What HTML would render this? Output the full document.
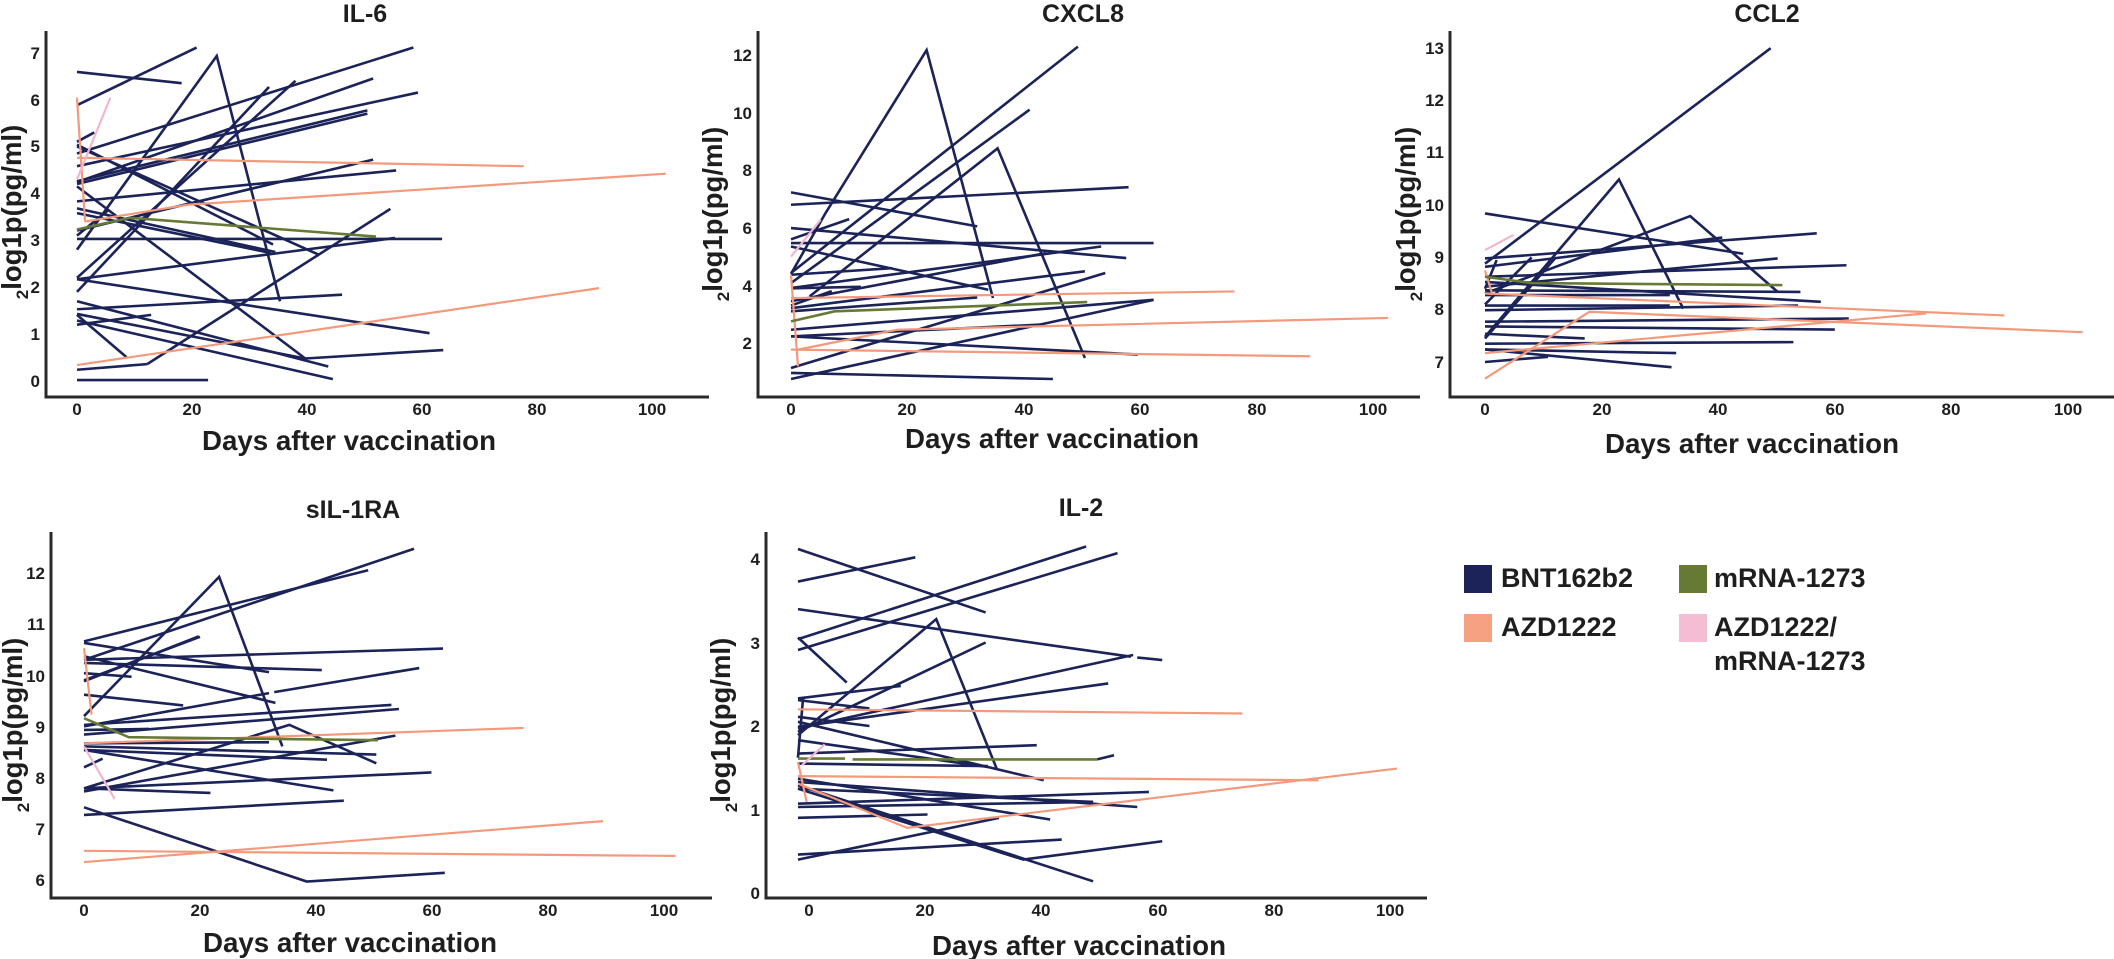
<!DOCTYPE html>
<html><head><meta charset="utf-8"><style>
html,body{margin:0;padding:0;background:#fff}
svg{display:block}
text{font-family:"Liberation Sans",Arial,sans-serif;font-weight:bold;fill:#1e1e1e}
.t{font-size:25px;text-anchor:middle}
.xl{font-size:28px;text-anchor:middle}
.tk{font-size:17px;text-anchor:middle}
.ty{font-size:17px;text-anchor:end}
.yl{font-size:28px;text-anchor:middle}
.ax{stroke:#2a2a2a;stroke-width:3;fill:none}
.n polyline{stroke:#1b2359;stroke-width:2.6;fill:none;vector-effect:non-scaling-stroke}
.o polyline{stroke:#f39a7c;stroke-width:2.2;fill:none;vector-effect:non-scaling-stroke}
.g polyline{stroke:#667a36;stroke-width:2.6;fill:none;vector-effect:non-scaling-stroke}
.p polyline{stroke:#f2b6cf;stroke-width:2.2;fill:none;vector-effect:non-scaling-stroke}
.lg{font-size:27px}
</style></head><body>
<svg width="2114" height="959" viewBox="0 0 2114 959" xmlns="http://www.w3.org/2000/svg">

<!-- ===== IL-6 ===== -->
<text class="t" x="365" y="22">IL-6</text>
<path class="ax" d="M46,31 V397 H709"/>
<g>
<text class="ty" x="40" y="387">0</text><text class="ty" x="40" y="340">1</text><text class="ty" x="40" y="293">2</text><text class="ty" x="40" y="246">3</text><text class="ty" x="40" y="199">4</text><text class="ty" x="40" y="152">5</text><text class="ty" x="40" y="106">6</text><text class="ty" x="40" y="59">7</text>
<text class="tk" x="77" y="415">0</text><text class="tk" x="192" y="415">20</text><text class="tk" x="307" y="415">40</text><text class="tk" x="422" y="415">60</text><text class="tk" x="537" y="415">80</text><text class="tk" x="652" y="415">100</text>
</g>
<text class="yl" transform="translate(21,212) rotate(-90)"><tspan font-size="17" dy="7">2</tspan><tspan dy="-7" textLength="165" lengthAdjust="spacingAndGlyphs">log1p(pg/ml)</tspan></text>
<text class="xl" x="349" y="450" textLength="294" lengthAdjust="spacingAndGlyphs">Days after vaccination</text>
<g transform="translate(77,381) scale(5.75,-46.9)">
<g class="n">
<polyline points="0,6.59 18.2,6.35"/><polyline points="0,5.88 20.8,7.11"/><polyline points="0,0.02 22.8,0.02"/>
<polyline points="0,0.24 12.2,0.36"/><polyline points="0,1.41 8.6,0.51"/><polyline points="0,4.24 51.5,6.45"/>
<polyline points="0,4.58 59.3,6.15"/><polyline points="0,4.26 50.5,5.77"/><polyline points="0,4.2 50.5,5.7"/>
<polyline points="0,4.85 58.5,7.11"/><polyline points="0,3.83 55.5,4.49"/><polyline points="0,3.21 51.5,4.72"/>
<polyline points="0,3.03 63.5,3.03"/><polyline points="0,2.17 55.3,3.05"/><polyline points="0,2.17 61.3,1.02"/>
<polyline points="0,1.9 33.4,6.27"/><polyline points="0,1.53 46.1,1.84"/><polyline points="0,1.7 43.7,0.31"/>
<polyline points="0,1.43 39.7,0.48 63.7,0.66"/><polyline points="0,1.29 44.5,0.04"/><polyline points="0,1.2 12.9,1.41"/>
<polyline points="0,2.8 24.3,6.93 35.3,1.7"/><polyline points="0,5.04 34.1,2.91"/><polyline points="0,5.0 42.1,2.69"/>
<polyline points="0,3.58 33.7,2.73"/><polyline points="0,3.68 34.5,2.75"/><polyline points="0,4.15 39.7,0.48"/>
<polyline points="12.2,0.36 54.5,3.67"/><polyline points="0,5.1 3,5.3"/><polyline points="0,3.1 5.5,3.65"/>
<polyline points="0,2.2 38,6.4"/>
</g>
<g class="o">
<polyline points="0,6.04 1.4,3.4"/><polyline points="0,4.76 77.7,4.58"/>
<polyline points="1.4,3.4 19.4,3.76 102.4,4.42"/><polyline points="0,0.34 90.8,1.98"/>
</g>
<g class="g"><polyline points="0,3.23 9.2,3.48 52,3.08"/></g>
<g class="p"><polyline points="0,4.3 5.8,6.04"/></g>
</g>

<!-- ===== CXCL8 ===== -->
<text class="t" x="1083" y="22">CXCL8</text>
<path class="ax" d="M758,31 V397 H1420"/>
<g>
<text class="ty" x="752" y="349">2</text><text class="ty" x="752" y="292">4</text><text class="ty" x="752" y="234">6</text><text class="ty" x="752" y="176">8</text><text class="ty" x="752" y="119">10</text><text class="ty" x="752" y="61">12</text>
<text class="tk" x="791" y="415">0</text><text class="tk" x="907" y="415">20</text><text class="tk" x="1024" y="415">40</text><text class="tk" x="1140" y="415">60</text><text class="tk" x="1257" y="415">80</text><text class="tk" x="1373" y="415">100</text>
</g>
<text class="yl" transform="translate(722,214) rotate(-90)"><tspan font-size="17" dy="7">2</tspan><tspan dy="-7" textLength="165" lengthAdjust="spacingAndGlyphs">log1p(pg/ml)</tspan></text>
<text class="xl" x="1052" y="448" textLength="294" lengthAdjust="spacingAndGlyphs">Days after vaccination</text>
<g transform="translate(791,400.6) scale(5.82,-28.8)">
<g class="n">
<polyline points="0,4.4 5.9,6.5 23.3,12.17 34.7,3.56"/><polyline points="0,4.43 49.3,12.29"/><polyline points="0,4.08 41,10.1"/>
<polyline points="3.2,3.62 35.5,8.76 50.5,1.48"/><polyline points="0,7.23 32,6.05"/><polyline points="0,6.8 58,7.41"/>
<polyline points="0,5.99 57.6,4.95"/><polyline points="0,5.47 62.3,5.47"/><polyline points="0,4.37 17.4,4.6"/>
<polyline points="0,5.35 33.9,3.85"/><polyline points="0,3.91 53.3,5.35"/><polyline points="0,3.45 43.8,5.12"/>
<polyline points="0,3.21 50.5,4.49"/><polyline points="0,3.1 32,3.58"/><polyline points="0,2.46 62.3,3.5"/>
<polyline points="0,2.23 43,2.64"/><polyline points="0,2.23 59.6,1.6"/><polyline points="0,1.13 54,4.43"/>
<polyline points="0,0.96 45,0.75"/><polyline points="0,0.75 62.3,3.5"/><polyline points="0,3.3 7,3.8"/>
<polyline points="0,5.6 10,6.3"/><polyline points="0,3.9 12,3.95"/>
</g>
<g class="o">
<polyline points="0,4.37 1.2,1.19"/><polyline points="1.2,1.77 18.2,2.46 102.6,2.87"/>
<polyline points="0,1.77 89.2,1.54"/><polyline points="0,3.56 76.2,3.79"/>
</g>
<g class="g"><polyline points="0,2.75 7.5,3.1 50.9,3.42"/></g>
<g class="p"><polyline points="0,5.0 5.1,6.28"/></g>
</g>

<!-- ===== CCL2 ===== -->
<text class="t" x="1767" y="22">CCL2</text>
<path class="ax" d="M1450,31 V397 H2114"/>
<g>
<text class="ty" x="1444" y="368">7</text><text class="ty" x="1444" y="315">8</text><text class="ty" x="1444" y="263">9</text><text class="ty" x="1444" y="211">10</text><text class="ty" x="1444" y="158">11</text><text class="ty" x="1444" y="106">12</text><text class="ty" x="1444" y="54">13</text>
<text class="tk" x="1485" y="415">0</text><text class="tk" x="1602" y="415">20</text><text class="tk" x="1718" y="415">40</text><text class="tk" x="1835" y="415">60</text><text class="tk" x="1951" y="415">80</text><text class="tk" x="2068" y="415">100</text>
</g>
<text class="yl" transform="translate(1415,214) rotate(-90)"><tspan font-size="17" dy="7">2</tspan><tspan dy="-7" textLength="165" lengthAdjust="spacingAndGlyphs">log1p(pg/ml)</tspan></text>
<text class="xl" x="1752" y="453" textLength="294" lengthAdjust="spacingAndGlyphs">Days after vaccination</text>
<g transform="translate(1485,728.1) scale(5.83,-52.3)">
<g class="n">
<polyline points="0,8.88 49,13"/><polyline points="0,7.48 22.98,10.49 34,8.02"/><polyline points="0,9.84 44.3,9.07"/>
<polyline points="0,8.31 35.2,9.79 50.2,8.34"/><polyline points="0,8.82 40.7,9.38"/><polyline points="0,8.98 56.9,9.46"/>
<polyline points="0,8.44 50.2,8.98"/><polyline points="0,8.63 62,8.85"/><polyline points="0,8.53 57.6,8.15"/>
<polyline points="0,8.37 54.1,8.34"/><polyline points="0,8.28 31.7,8.28"/><polyline points="0,8.08 31.7,8.08"/>
<polyline points="0,7.99 53.7,8.08"/><polyline points="0,7.77 62.4,7.83"/><polyline points="0,7.68 60,7.62"/>
<polyline points="0,7.54 17.1,7.45"/><polyline points="0,7.35 52.9,7.38"/><polyline points="0,7.24 32.8,7.17"/>
<polyline points="0,7.0 10.8,7.1"/><polyline points="0,7.24 32,6.9"/><polyline points="0,7.45 12,8.98"/>
<polyline points="0,8.4 2,8.95"/><polyline points="0,8.1 8,9.0"/>
</g>
<g class="o">
<polyline points="0,8.75 1.3,8.28"/><polyline points="0,8.31 89.1,7.89"/>
<polyline points="0,7.17 75.7,7.93"/><polyline points="0,6.68 17.9,7.96 102.5,7.57"/>
</g>
<g class="g"><polyline points="0,8.63 8,8.51 51,8.47"/></g>
<g class="p"><polyline points="0,9.14 4.9,9.43"/></g>
</g>

<!-- ===== sIL-1RA ===== -->
<text class="t" x="353" y="518">sIL-1RA</text>
<path class="ax" d="M51,532 V898 H712"/>
<g>
<text class="ty" x="45" y="886">6</text><text class="ty" x="45" y="835">7</text><text class="ty" x="45" y="784">8</text><text class="ty" x="45" y="733">9</text><text class="ty" x="45" y="682">10</text><text class="ty" x="45" y="630">11</text><text class="ty" x="45" y="579">12</text>
<text class="tk" x="84" y="916">0</text><text class="tk" x="200" y="916">20</text><text class="tk" x="316" y="916">40</text><text class="tk" x="432" y="916">60</text><text class="tk" x="548" y="916">80</text><text class="tk" x="664" y="916">100</text>
</g>
<text class="yl" transform="translate(22,725) rotate(-90)"><tspan font-size="17" dy="7">2</tspan><tspan dy="-7" textLength="165" lengthAdjust="spacingAndGlyphs">log1p(pg/ml)</tspan></text>
<text class="xl" x="350" y="952" textLength="294" lengthAdjust="spacingAndGlyphs">Days after vaccination</text>
<g transform="translate(84,1187.2) scale(5.8,-51.2)">
<g class="n">
<polyline points="0,10.66 49,12.05"/><polyline points="0,10.3 56.9,12.47"/><polyline points="0,9.2 23.3,11.92 34.2,8.61"/>
<polyline points="0,9.88 19.8,10.76"/><polyline points="0,10.3 61.9,10.52"/><polyline points="0,10.24 41,10.1"/>
<polyline points="0,10.63 31.9,10.06"/><polyline points="0,10.37 33,9.46"/><polyline points="0,10.04 8.2,9.97"/>
<polyline points="0,9.62 17.1,9.41"/><polyline points="0,9.0 31.9,9.65"/><polyline points="32.8,9.67 57.8,10.14"/>
<polyline points="0,9.03 53,9.42"/><polyline points="0,8.84 54.3,9.34"/><polyline points="0,8.93 11.2,8.95"/>
<polyline points="0,8.67 31.9,8.69"/><polyline points="0,8.61 50.4,8.45"/><polyline points="0,8.54 41.9,8.35"/>
<polyline points="0,7.79 35.4,9.03 50.4,8.28"/><polyline points="0,7.73 53.7,8.82"/><polyline points="0,8.54 43,7.75"/>
<polyline points="0,7.79 21.8,7.7"/><polyline points="0,7.79 59.9,8.1"/><polyline points="0,7.27 44.8,7.55"/>
<polyline points="0,7.42 38.4,5.97 62.2,6.14"/><polyline points="0,8.2 3.2,8.37"/><polyline points="0,9.9 20,10.75"/>
</g>
<g class="o">
<polyline points="0,10.53 1.3,9.23"/><polyline points="0,8.67 75.8,8.97"/>
<polyline points="0,6.57 102,6.47"/><polyline points="0,6.35 89.5,7.15"/>
</g>
<g class="g"><polyline points="0,9.16 7.7,8.79 50.7,8.73"/></g>
<g class="p"><polyline points="0,8.61 5.3,7.58"/></g>
</g>

<!-- ===== IL-2 ===== -->
<text class="t" x="1081" y="516">IL-2</text>
<path class="ax" d="M766,532 V898 H1427"/>
<g>
<text class="ty" x="760" y="899">0</text><text class="ty" x="760" y="816">1</text><text class="ty" x="760" y="732">2</text><text class="ty" x="760" y="649">3</text><text class="ty" x="760" y="565">4</text>
<text class="tk" x="809" y="916">0</text><text class="tk" x="925" y="916">20</text><text class="tk" x="1041" y="916">40</text><text class="tk" x="1158" y="916">60</text><text class="tk" x="1274" y="916">80</text><text class="tk" x="1390" y="916">100</text>
</g>
<text class="yl" transform="translate(730,725) rotate(-90)"><tspan font-size="17" dy="7">2</tspan><tspan dy="-7" textLength="165" lengthAdjust="spacingAndGlyphs">log1p(pg/ml)</tspan></text>
<text class="xl" x="1079" y="955" textLength="294" lengthAdjust="spacingAndGlyphs">Days after vaccination</text>
<g transform="translate(809,893) scale(5.81,-83.5)">
<g class="n">
<polyline points="-1.9,4.12 30.4,3.36"/><polyline points="-1.9,3.73 18.3,4.02"/><polyline points="-1.9,3.04 47.7,4.15"/>
<polyline points="-1.9,2.91 53.1,4.07"/><polyline points="-1.9,3.4 55.4,2.83"/><polyline points="56.5,2.82 60.8,2.79"/>
<polyline points="-1.9,3.06 6.5,2.52"/><polyline points="-1.9,1.89 21.9,3.28 32.3,1.49"/><polyline points="-1.9,1.93 30.4,3.0"/>
<polyline points="-1.9,2.33 15.8,2.48"/><polyline points="-1.9,2.31 10.4,2.21"/><polyline points="-1.9,1.97 55.8,2.85"/>
<polyline points="-1.9,1.99 51.5,2.51"/><polyline points="-1.9,2.11 10.4,2.0"/><polyline points="-1.9,2.05 40.4,1.35"/>
<polyline points="-1.9,1.83 30.8,1.51"/><polyline points="-1.9,1.67 39.2,1.77"/><polyline points="-1.9,1.55 30.8,1.52"/>
<polyline points="-1.9,1.37 41.5,0.88"/><polyline points="-1.9,1.33 56.5,1.03"/><polyline points="-1.9,1.25 48.9,1.09"/>
<polyline points="-1.9,1.07 58.5,1.21"/><polyline points="-1.9,1.03 48.9,1.09"/><polyline points="-1.9,0.9 20.4,0.94"/>
<polyline points="-1.9,1.25 36.9,0.4 60.8,0.62"/><polyline points="-1.9,0.46 43.5,0.64"/><polyline points="-1.9,0.4 32.7,0.9"/>
<polyline points="-1.9,1.29 48.9,0.14"/><polyline points="-1.9,1.62 -1,2.35"/><polyline points="49.6,1.6 52.5,1.65"/>
</g>
<g class="o">
<polyline points="-1.9,2.2 74.6,2.15"/><polyline points="-1.9,1.4 87.7,1.35"/>
<polyline points="-1.9,1.57 -0.4,1.09"/><polyline points="-1.9,1.31 16.9,0.78 101.2,1.49"/>
</g>
<g class="g"><polyline points="-1.9,1.61 6.2,1.61"/><polyline points="7.5,1.6 49.6,1.6"/></g>
<g class="p"><polyline points="-1.2,1.53 2.7,1.78"/></g>
</g>

<!-- ===== Legend ===== -->
<rect x="1464" y="565" width="28" height="28" fill="#1b2359"/>
<text class="lg" x="1501" y="587">BNT162b2</text>
<rect x="1464" y="614" width="28" height="28" fill="#f6a282"/>
<text class="lg" x="1501" y="636">AZD1222</text>
<rect x="1679" y="565" width="28" height="28" fill="#667a36"/>
<text class="lg" x="1714" y="587">mRNA-1273</text>
<rect x="1679" y="614" width="28" height="28" fill="#f5bdd4"/>
<text class="lg" x="1714" y="636">AZD1222/</text>
<text class="lg" x="1714" y="670">mRNA-1273</text>
</svg>
</body></html>
